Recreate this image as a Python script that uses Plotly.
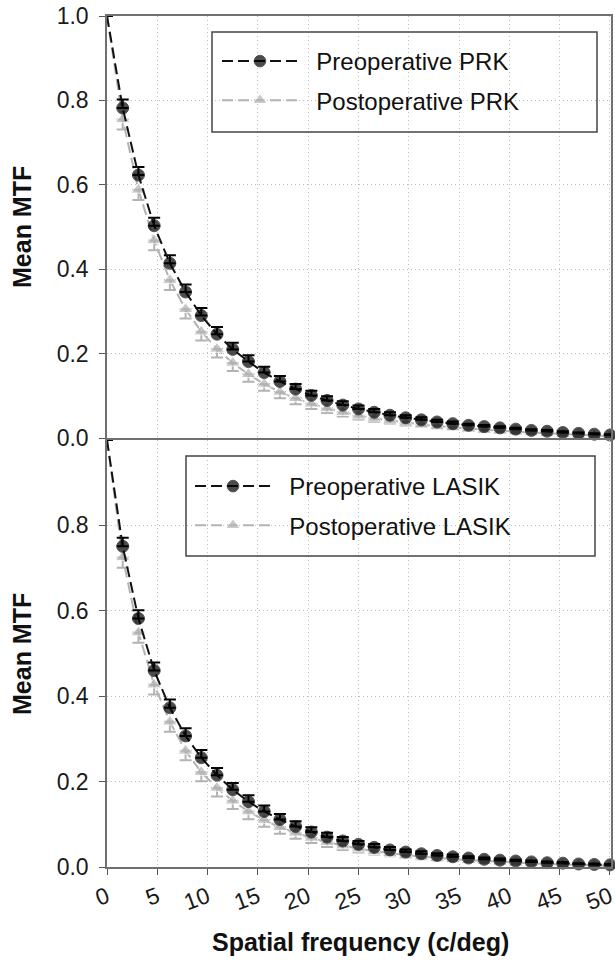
import plotly.graph_objects as go

# Spatial frequency samples (c/deg): 0 plus 32 steps of 50/32
freq = [round(k * 50 / 32, 4) for k in range(33)]

pre_prk = [1.0, 0.782, 0.623, 0.503, 0.414, 0.346, 0.290, 0.246, 0.210, 0.181, 0.155,
           0.134, 0.116, 0.101, 0.089, 0.078, 0.069, 0.061, 0.054, 0.048, 0.043,
           0.038, 0.034, 0.030, 0.027, 0.024, 0.021, 0.018, 0.016, 0.013, 0.011,
           0.009, 0.007]
post_prk = [1.0, 0.755, 0.588, 0.468, 0.374, 0.305, 0.252, 0.211, 0.178, 0.151, 0.128,
            0.109, 0.094, 0.081, 0.070, 0.061, 0.053, 0.046, 0.041, 0.036, 0.032,
            0.028, 0.025, 0.022, 0.019, 0.017, 0.015, 0.013, 0.011, 0.009, 0.007,
            0.006, 0.004]
pre_lasik = [1.0, 0.751, 0.582, 0.460, 0.373, 0.307, 0.256, 0.215, 0.181, 0.153, 0.130,
             0.111, 0.095, 0.082, 0.070, 0.061, 0.053, 0.046, 0.040, 0.035, 0.031,
             0.027, 0.024, 0.021, 0.018, 0.016, 0.014, 0.012, 0.010, 0.009, 0.007,
             0.006, 0.005]
post_lasik = [1.0, 0.725, 0.549, 0.427, 0.340, 0.272, 0.222, 0.185, 0.155, 0.130, 0.110,
              0.093, 0.080, 0.068, 0.058, 0.050, 0.043, 0.037, 0.032, 0.028, 0.024,
              0.021, 0.018, 0.016, 0.014, 0.012, 0.010, 0.009, 0.007, 0.006, 0.005,
              0.004, 0.003]

# Standard errors (upper bar for preoperative, lower bar for postoperative)
pre_err = [0, 0.020, 0.019, 0.019, 0.019, 0.018, 0.018, 0.017, 0.016, 0.015, 0.014,
           0.013, 0.012, 0.011, 0.010, 0.009, 0.008, 0.008, 0.007, 0.006, 0.006,
           0.005, 0.005, 0.004, 0.004, 0.004, 0.003, 0.003, 0.003, 0.003, 0.002,
           0.002, 0.002]
post_err = [0, 0.024, 0.024, 0.023, 0.023, 0.022, 0.021, 0.020, 0.019, 0.018, 0.016,
            0.015, 0.014, 0.012, 0.011, 0.010, 0.009, 0.008, 0.007, 0.007, 0.006,
            0.006, 0.005, 0.005, 0.004, 0.004, 0.004, 0.003, 0.003, 0.003, 0.002,
            0.002, 0.002]
zeros = [0] * len(freq)

x_ticks = [0, 5, 10, 15, 20, 25, 30, 35, 40, 45, 50]
y_ticks_top = [0.0, 0.2, 0.4, 0.6, 0.8, 1.0]
y_ticks_bottom = [0.0, 0.2, 0.4, 0.6, 0.8]

BLACK = "#000000"
GREY = "#b3b3b3"
FONT = "Liberation Sans, Arial, sans-serif"
PAD = "\u00a0\u00a0"  # small gap between legend symbol and label

# no marker at the origin point of each curve
circle_sizes = [0] + [12] * (len(freq) - 1)
tri_sizes = [0] + [13] * (len(freq) - 1)


def add_pair(fig, pre, post, label, xa, ya, legend_name):
    fig.add_trace(go.Scatter(
        x=freq, y=post, mode="lines+markers", name=PAD + "Postoperative " + label,
        xaxis=xa, yaxis=ya, legend=legend_name, legendrank=2,
        legendgroup=legend_name + "post",
        line=dict(color=GREY, width=2, dash="11px,5px"),
        marker=dict(symbol="triangle-up", size=tri_sizes, color=GREY),
        error_y=dict(type="data", symmetric=False, array=zeros, arrayminus=post_err,
                     color=GREY, thickness=2, width=6),
        cliponaxis=False,
    ))
    fig.add_trace(go.Scatter(
        x=freq, y=pre, mode="lines+markers", name=PAD + "Preoperative " + label,
        xaxis=xa, yaxis=ya, legend=legend_name, legendrank=1,
        legendgroup=legend_name + "pre",
        line=dict(color="#111111", width=2, dash="11px,5px"),
        marker=dict(symbol="circle", size=circle_sizes, color=BLACK),
        error_y=dict(type="data", symmetric=False, array=pre_err, arrayminus=zeros,
                     color=BLACK, thickness=2, width=6),
        cliponaxis=False,
    ))


fig = go.Figure()
add_pair(fig, pre_prk, post_prk, "PRK", "x", "y", "legend")
add_pair(fig, pre_lasik, post_lasik, "LASIK", "x2", "y2", "legend2")

x_dom = [107 / 615, 611 / 615]
H = 964
top_dom = [(H - 438) / H, (H - 16) / H]
bot_dom = [(H - 867) / H, (H - 440) / H]

tick_font = dict(family=FONT, size=23, color="#1a1a1a")
common_x = dict(range=[0, 50.1], tickvals=x_ticks, showgrid=True, gridcolor="#bdbdbd",
                griddash="1px,3px", gridwidth=1, showline=True, linecolor="#707070",
                linewidth=1.5, mirror=True, zeroline=False, automargin=False)
common_y = dict(range=[0, 1.0], showgrid=True, gridcolor="#bdbdbd", griddash="1px,3px",
                gridwidth=1, showline=True, linecolor="#707070", linewidth=1.5,
                mirror=True, zeroline=False, ticks="outside", ticklen=6,
                tickcolor="#555555", tickfont=tick_font, ticklabelstandoff=6,
                automargin=False)

legend_common = dict(
    font=dict(family=FONT, size=24, color="#111111"),
    bgcolor="rgba(0,0,0,0)", borderwidth=0, itemwidth=76,
    traceorder="grouped", tracegroupgap=5, xanchor="left", yanchor="top",
)

fig.update_layout(
    width=615, height=964, margin=dict(l=0, r=0, t=0, b=0, autoexpand=False),
    paper_bgcolor="white", plot_bgcolor="white",
    xaxis=dict(domain=x_dom, anchor="y", showticklabels=False, ticks="", **common_x),
    yaxis=dict(domain=top_dom, anchor="x", tickvals=y_ticks_top,
               ticktext=[f"{v:.1f}" for v in y_ticks_top], **common_y),
    xaxis2=dict(domain=x_dom, anchor="y2", ticks="outside", ticklen=6, tickcolor="#555555",
                tickangle=-20, tickfont=tick_font, ticklabeloverflow="allow", **common_x),
    yaxis2=dict(domain=bot_dom, anchor="x2", tickvals=y_ticks_bottom,
                ticktext=[f"{v:.1f}" for v in y_ticks_bottom], **common_y),
    legend=dict(x=217 / 615, y=(H - 39) / H, **legend_common),
    legend2=dict(x=190 / 615, y=(H - 464) / H, **legend_common),
    showlegend=True,
)

# legend frames
for x0, x1, y0, y1 in [(212, 597, 32, 132), (186, 595, 456, 556)]:
    fig.add_shape(type="rect", xref="paper", yref="paper",
                  x0=x0 / 615, x1=x1 / 615, y0=(H - y1) / H, y1=(H - y0) / H,
                  line=dict(color="#444444", width=1.5), fillcolor="rgba(0,0,0,0)")

title_font = dict(family=FONT, size=25, color="#111111")
for yc in [(H - 227) / H, (H - 654) / H]:
    fig.add_annotation(text="<b>Mean MTF</b>", xref="paper", yref="paper",
                       x=22 / 615, y=yc, textangle=-90, showarrow=False,
                       font=title_font, xanchor="center", yanchor="middle")
fig.add_annotation(text="<b>Spatial frequency (c/deg)</b>", xref="paper", yref="paper",
                   x=360 / 615, y=(H - 942) / H, showarrow=False, font=title_font,
                   xanchor="center", yanchor="middle")

fig.write_html("out.html")
